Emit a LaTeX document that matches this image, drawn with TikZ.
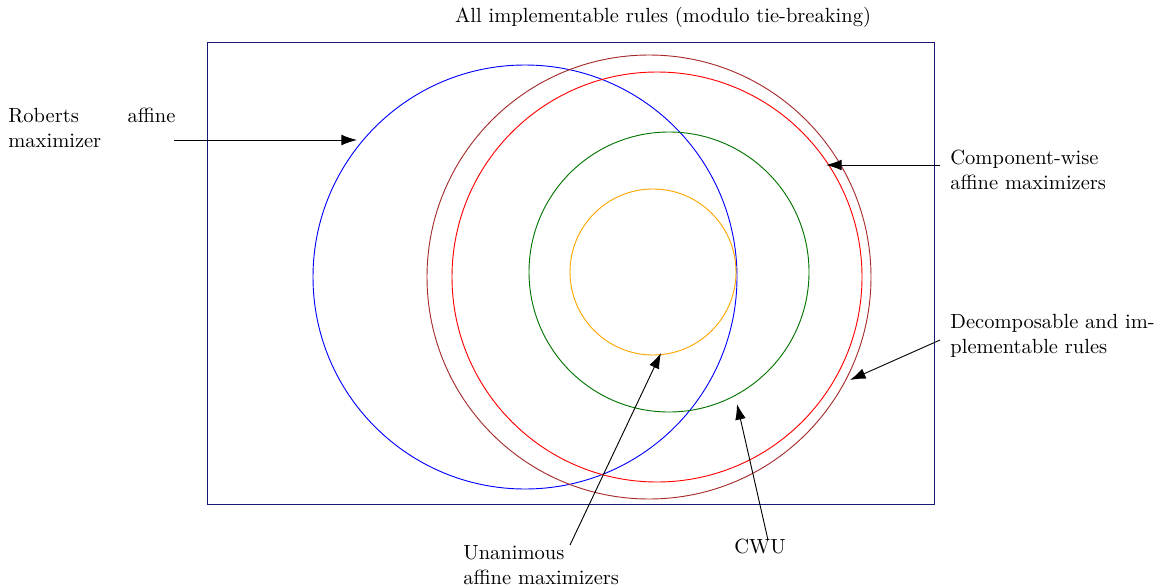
\documentclass[tikz,border=0pt]{standalone}
\usetikzlibrary{arrows.meta}
\definecolor{rectcol}{rgb}{0.1,0.1,0.45}
\definecolor{browncol}{rgb}{0.65,0.17,0.17}
\definecolor{greencol}{rgb}{0,0.45,0}
\definecolor{orangecol}{rgb}{1,0.65,0}
\begin{document}
\begin{tikzpicture}[x=0.4878pt,y=-0.4878pt,
  ring/.style={line width=0.45pt},
  lbl/.style={inner sep=0pt,align=left,anchor=west},
  arr/.style={-{Latex[length=7.6pt,width=5.2pt]},line width=0.45pt}]
\useasboundingbox (0,0) rectangle (1159,586);
% frame
\node[draw=rectcol,line width=0.45pt,minimum width=727*0.4878pt,minimum height=462*0.4878pt,inner sep=0pt] (frame) at (570.5,273) {};
% circles
\draw[ring,blue] (525,277) circle (212);
\draw[ring,browncol] (649,277) circle (222);
\draw[ring,red] (657,277) circle (205);
\draw[ring,greencol] (669,272) circle (140);
\draw[ring,orangecol] (653,272) circle (83);
% labels
\node[inner sep=0pt] (title) at (663,17) {All implementable rules (modulo tie-breaking)};
\node[lbl,text width=81.5pt,align=justify] (rob) at (8,128) {Roberts affine maximizer};
\node[lbl] (cw) at (950,170) {Component-wise\\affine maximizers};
\node[lbl] (dec) at (950,336) {Decomposable and im-\\plementable rules};
\node[lbl] (una) at (463,565) {Unanimous\\affine maximizers};
\node[inner sep=0pt] (cwu) at (760,546) {CWU};
% arrow ends
\coordinate (robS) at (174,140);
\coordinate (robE) at (357,140);
\coordinate (cwS) at (940,165);
\coordinate (cwE) at (826,165);
\coordinate (decS) at (940,340);
\coordinate (decE) at (850,380);
\coordinate (unaS) at (570,545);
\coordinate (unaE) at (661,353);
\coordinate (cwuS) at (768,540);
\coordinate (cwuE) at (737,404);
\draw[arr] (robS) -- (robE);
\draw[arr] (cwS) -- (cwE);
\draw[arr] (decS) -- (decE);
\draw[arr] (unaS) -- (unaE);
\draw[arr] (cwuS) -- (cwuE);
\end{tikzpicture}
\end{document}
